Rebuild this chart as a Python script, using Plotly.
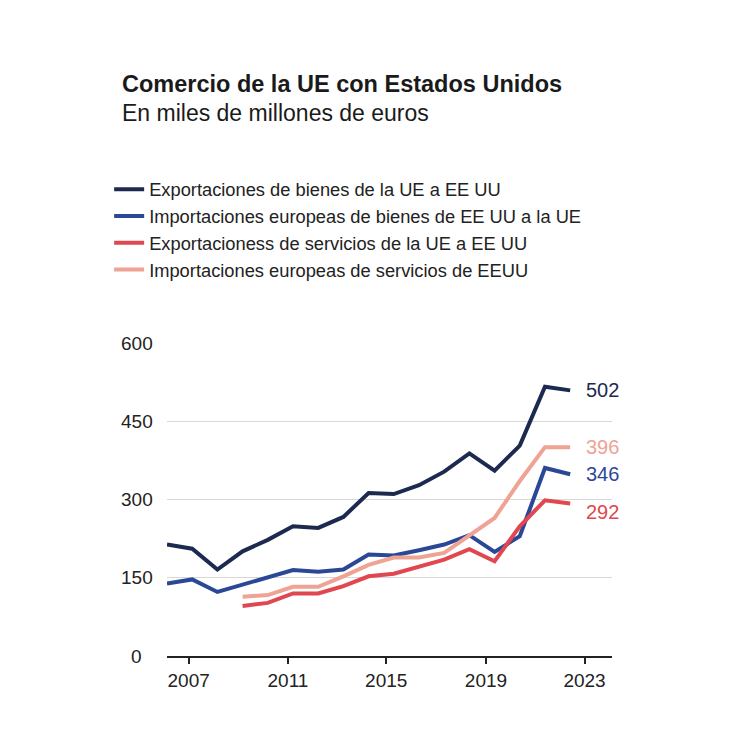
import plotly.graph_objects as go

years = list(range(2007, 2024))
exp_bienes = [214, 206, 166, 201, 223, 249, 246, 267, 313, 311, 328, 354, 389, 356, 404, 517, 510]
imp_bienes = [139, 147, 123, 137, 152, 165, 162, 166, 195, 193, 203, 214, 232, 200, 230, 361, 349]
years_serv = list(range(2010, 2024))
exp_serv = [96, 102, 120, 120, 134, 153, 158, 171, 185, 205, 182, 249, 299, 293]
imp_serv = [114, 117, 133, 133, 153, 175, 189, 189, 198, 232, 265, 336, 401, 401]

names = [
    "Exportaciones de bienes de la UE a EE UU",
    "Importaciones europeas de bienes de EE UU a la UE",
    "Exportacioness de servicios de la UE a EE UU",
    "Importaciones europeas de servicios de EEUU",
]
colors = ["#1c2a50", "#2b4897", "#e0474f", "#eea394"]
end_labels = ["502", "346", "292", "396"]
label_shift = [0, 0, -9, 0]

y_ticks = [0, 150, 300, 450, 600]
x_tick_labels = ["2007", "2011", "2015", "2019", "2023"]
x_tick_pos = [2007.86, 2011.80, 2015.70, 2019.66, 2023.57]

series = [(years, exp_bienes), (years, imp_bienes), (years_serv, exp_serv), (years_serv, imp_serv)]

FONT = "Liberation Sans"
fig = go.Figure()
for (xs, ys), n, c in zip(series, names, colors):
    fig.add_trace(go.Scatter(x=xs, y=ys, name=n, mode="lines",
                             line=dict(color=c, width=4), hoverinfo="skip"))

annotations = []
for (xs, ys), c, lab, sh in zip(series, colors, end_labels, label_shift):
    annotations.append(dict(x=xs[-1], y=ys[-1], xref="x", yref="y", text=lab,
                            showarrow=False, xanchor="left", yanchor="middle",
                            xshift=14, yshift=sh, font=dict(family=FONT, size=20, color=c)))
for t in y_ticks:
    annotations.append(dict(x=-0.068, y=t, xref="paper", yref="y", text=str(t),
                            showarrow=False, xanchor="center", yanchor="middle",
                            font=dict(family=FONT, size=19, color="#222")))
annotations.append(dict(x=-0.106, y=1.826, xref="paper", yref="paper",
                        text="<b>Comercio de la UE con Estados Unidos</b>",
                        showarrow=False, xanchor="left", yanchor="middle",
                        font=dict(family=FONT, size=23.5, color="#1a1a1a")))
annotations.append(dict(x=-0.106, y=1.734, xref="paper", yref="paper",
                        text="En miles de millones de euros",
                        showarrow=False, xanchor="left", yanchor="middle",
                        font=dict(family=FONT, size=23, color="#1a1a1a")))

fig.update_layout(
    width=743, height=750,
    margin=dict(l=167, r=131, t=343, b=94),
    paper_bgcolor="white", plot_bgcolor="white",
    showlegend=True,
    legend=dict(x=-0.13, y=1.55, xanchor="left", yanchor="top",
                font=dict(family=FONT, size=18.3, color="#222"),
                itemwidth=30, bgcolor="rgba(0,0,0,0)"),
    annotations=annotations,
    xaxis=dict(range=[2007, 2024.66], tickvals=x_tick_pos, ticktext=x_tick_labels,
               showgrid=False, zeroline=False, showline=True, linecolor="#222", linewidth=2,
               ticks="outside", ticklen=6, tickwidth=2, tickcolor="#222",
               tickfont=dict(family=FONT, size=19, color="#222")),
    yaxis=dict(range=[0, 601], tickvals=y_ticks, showticklabels=False,
               showgrid=True, gridcolor="#d8d8d8", gridwidth=1, zeroline=False, showline=False),
)

fig.write_html("out.html")
